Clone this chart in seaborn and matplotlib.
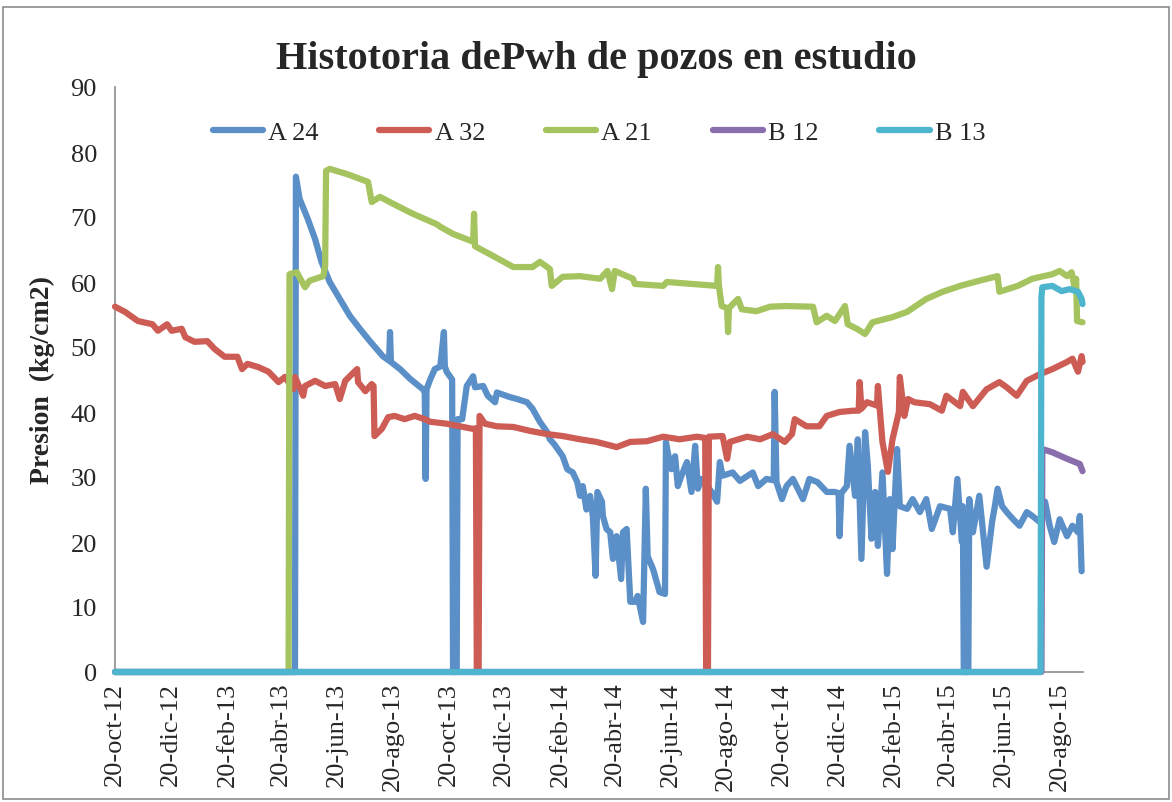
import matplotlib
matplotlib.use("Agg")
import matplotlib.pyplot as plt
import seaborn as sns
import pandas as pd
from matplotlib.patches import Rectangle
from matplotlib.lines import Line2D

# ---------------- data (days since 20-oct-12, Pwh kg/cm2) ----------------
inicio = "2012-10-20"

a24_dia = [0, 197, 198, 202, 211, 219, 226, 235, 246, 257, 268, 279, 293, 300, 301, 302, 312, 323, 337, 339, 340,
           341, 345, 350, 356, 360, 361, 363, 369, 370, 374, 375, 380, 385, 392, 394, 403, 408, 416, 418, 432, 440,
           451, 457, 465, 473, 476, 481, 490, 495, 501, 506, 509, 512, 516, 520, 523, 526, 528, 533, 534, 538, 542,
           545, 549, 554, 556, 560, 564, 569, 572, 578, 581, 583, 589, 596, 602, 603, 605, 609, 613, 616, 620, 626,
           631, 635, 638, 642, 653, 659, 662, 665, 676, 684, 698, 704, 713, 721, 722, 724, 730, 735, 742, 753, 760,
           769, 779, 788, 792, 793, 795, 801, 804, 810, 813, 817, 821, 824, 828, 832, 835, 840, 845, 848, 851, 856,
           859, 867, 873, 881, 888, 894, 903, 914, 917, 922, 927, 928, 929, 934, 935, 939, 946, 954, 960, 963, 966,
           971, 976, 983, 990, 998, 1004, 1012, 1018, 1023, 1028, 1034, 1042, 1048, 1054, 1056, 1058]
a24_pwh = [0, 0, 76.2, 72.8, 69.7, 66.6, 63.1, 60.0, 57.4, 54.8, 52.8, 50.9, 48.6, 47.9, 52.3, 47.7, 46.6, 45.1, 43.5, 43.0, 29.7,
           43.5, 45.0, 46.6, 47.0, 52.3, 47.0, 46.2, 45.0, 0, 0, 38.9, 38.9, 44.0, 45.5, 43.8, 44.0, 42.5, 41.5, 43.0, 42.3, 42.0,
           41.5, 40.5, 38.5, 36.9, 35.8, 35.0, 33.2, 31.2, 30.7, 29.2, 27.1, 28.6, 25.0, 27.1, 24.0, 14.8, 27.7, 26.2, 24.0, 22.0, 21.5,
           17.4, 20.9, 14.3, 21.5, 22.0, 10.8, 10.8, 11.7, 7.7, 28.2, 17.8, 15.8, 12.3, 12.0, 35.4, 33.8, 31.2, 33.2, 28.6, 30.2, 32.3,
           27.7, 34.8, 28.2, 29.7, 27.7, 26.2, 32.3, 30.2, 30.7, 29.4, 30.7, 28.6, 29.7, 29.5, 43.1, 29.2, 26.6, 28.6, 29.7, 26.6, 29.7,
           29.2, 27.7, 27.7, 27.5, 20.9, 27.5, 28.6, 34.8, 27.1, 35.8, 17.4, 36.9, 31.7, 20.5, 27.7, 19.4, 30.7, 15.1, 26.6, 18.9, 34.3,
           25.5, 25.1, 26.6, 24.6, 26.6, 22.0, 25.5, 25.1, 21.5, 29.7, 20.0, 25.5, 0, 0, 26.6, 21.5, 27.1, 16.2, 23.1, 25.5, 28.2,
           25.5, 24.6, 23.5, 22.5, 24.6, 24.0, 23.1, 26.2, 22.5, 20.0, 23.5, 20.9, 22.5, 21.5, 24.0, 15.5]

a32_dia = [0, 11, 25, 41, 47, 57, 62, 73, 77, 87, 101, 109, 120, 134, 139, 145, 157, 168, 179, 186, 195, 197, 206, 208,
           219, 230, 241, 246, 252, 265, 266, 274, 281, 283, 284, 292, 299, 306, 317, 328, 339, 345, 363, 381, 392, 395,
           396, 398, 399, 405, 418, 436, 454, 473, 490, 509, 527, 549, 564, 582, 600, 618, 637, 646, 647, 649, 650, 665,
           670, 673, 692, 706, 720, 733, 741, 744, 757, 771, 779, 793, 808, 814, 815, 817, 823, 834, 835, 837, 840, 846,
           851, 858, 859, 864, 868, 875, 892, 905, 910, 925, 928, 939, 954, 968, 976, 987, 998, 1012, 1026, 1042, 1048,
           1054, 1058, 1059]
a32_pwh = [56.2, 55.4, 54.0, 53.5, 52.5, 53.5, 52.5, 52.8, 51.5, 50.8, 50.9, 49.7, 48.5, 48.5, 46.6, 47.4, 46.9, 46.2, 44.6, 45.4, 43.5, 45.4, 42.5, 44.0,
           44.8, 44.0, 44.3, 42.0, 44.8, 46.6, 44.6, 43.2, 44.3, 44.0, 36.3, 37.4, 39.2, 39.4, 38.9, 39.4, 38.9, 38.5, 38.2, 37.7, 37.4, 37.5,
           0, 0, 39.4, 38.2, 37.8, 37.7, 37.1, 36.6, 36.3, 35.8, 35.4, 34.6, 35.4, 35.5, 36.2, 35.8, 36.2, 36.0, 0, 0, 36.2, 36.3,
           32.8, 35.4, 36.2, 35.8, 36.6, 35.4, 36.6, 38.9, 37.8, 37.8, 39.4, 40.0, 40.2, 40.2, 44.6, 40.5, 41.5, 41.0, 44.0, 40.5, 35.4, 30.8,
           35.8, 40.0, 45.4, 39.4, 42.0, 41.5, 41.2, 40.2, 42.5, 40.9, 43.1, 40.9, 43.5, 44.6, 43.8, 42.5, 44.8, 45.8, 46.6, 47.7, 48.2,
           46.2, 48.6, 47.7]

a21_dia = [0, 190, 191, 199, 208, 213, 228, 230, 231, 235, 254, 277, 281, 290, 309, 326, 352, 356, 370, 392, 393, 394,
           414, 436, 457, 465, 476, 478, 490, 509, 531, 539, 544, 547, 567, 569, 600, 604, 659, 660, 661, 664, 670, 671,
           672, 682, 686, 702, 717, 733, 764, 768, 779, 788, 799, 802, 812, 821, 829, 851, 867, 888, 906, 925, 946, 966,
           968, 988, 1004, 1026, 1034, 1042, 1047, 1050, 1052, 1053, 1059]
a21_pwh = [0, 0, 61.2, 61.5, 59.2, 60.2, 60.9, 62.5, 77.1, 77.4, 76.6, 75.4, 72.3, 73.1, 71.7, 70.5, 68.9, 68.5, 67.4, 66.2, 70.5, 65.5,
           64.0, 62.3, 62.3, 63.1, 62.0, 59.4, 60.8, 60.9, 60.5, 61.7, 58.9, 61.7, 60.5, 59.7, 59.4, 60.0, 59.4, 62.3, 59.4, 56.3, 56.0, 52.3,
           56.0, 57.4, 55.8, 55.5, 56.2, 56.3, 56.2, 53.8, 54.8, 54.0, 56.3, 53.5, 52.8, 52.0, 53.8, 54.6, 55.4, 57.4, 58.5, 59.4, 60.2, 60.9,
           58.5, 59.4, 60.5, 61.2, 61.7, 60.9, 61.5, 59.4, 60.5, 54.0, 53.8]

b12_dia = [0, 1014, 1015, 1026, 1042, 1056, 1059]
b12_pwh = [0, 0, 34.3, 33.8, 32.8, 32.0, 30.9]

b13_dia = [0, 1013, 1014, 1015, 1026, 1036, 1045, 1054, 1058, 1059]
b13_pwh = [0, 0, 57.7, 59.2, 59.4, 58.6, 58.9, 58.5, 57.4, 56.6]

pozos = ["A 24", "A 32", "A 21", "B 12", "B 13"]
colores = ["#5A8FC8", "#CD5C55", "#A5C35E", "#8A6DAD", "#4EB5CF"]

tick_fechas = ["2012-10-20", "2012-12-20", "2013-02-20", "2013-04-20", "2013-06-20", "2013-08-20",
               "2013-10-20", "2013-12-20", "2014-02-20", "2014-04-20", "2014-06-20", "2014-08-20",
               "2014-10-20", "2014-12-20", "2015-02-20", "2015-04-20", "2015-06-20", "2015-08-20"]
tick_textos = ["20-oct-12", "20-dic-12", "20-feb-13", "20-abr-13", "20-jun-13", "20-ago-13",
               "20-oct-13", "20-dic-13", "20-feb-14", "20-abr-14", "20-jun-14", "20-ago-14",
               "20-oct-14", "20-dic-14", "20-feb-15", "20-abr-15", "20-jun-15", "20-ago-15"]
y_ticks = [0, 10, 20, 30, 40, 50, 60, 70, 80, 90]

titulo = "Histotoria dePwh de pozos en estudio"
y_label = "Presion  (kg/cm2)"

# ---------------- build frame ----------------
t0 = pd.Timestamp(inicio)
series = [(a24_dia, a24_pwh), (a32_dia, a32_pwh), (a21_dia, a21_pwh), (b12_dia, b12_pwh), (b13_dia, b13_pwh)]
frames = []
for nombre, (d, v) in zip(pozos, series):
    frames.append(pd.DataFrame({"fecha": t0 + pd.to_timedelta(d, unit="D"), "pwh": v, "pozo": nombre}))
df = pd.concat(frames, ignore_index=True)

# ---------------- plot ----------------
sns.set_style("white")
plt.rcParams["font.family"] = ["Liberation Serif", "DejaVu Serif"]

fig = plt.figure(figsize=(11.72, 8.03), dpi=100)
ax = fig.add_axes([115 / 1172, 1 - 673 / 803, (1083 - 115) / 1172, (673 - 88) / 803])

lw = 4.5
sns.lineplot(data=df, x="fecha", y="pwh", hue="pozo", hue_order=pozos,
             palette=dict(zip(pozos, colores)), estimator=None, sort=False,
             linewidth=lw, ax=ax, legend=False)

for ln in ax.lines:
    ln.set_solid_joinstyle("round")
    ln.set_solid_capstyle("round")
    ln.set_clip_on(False)
    ln.set_zorder(3)

ax.set_xlim(t0, t0 + pd.Timedelta(days=1059.5))
ax.set_ylim(0, 90)
ax.set_yticks(y_ticks)
ax.set_yticklabels([str(v) for v in y_ticks], fontsize=19)
ax.set_xticks(pd.to_datetime(tick_fechas))
ax.set_xticklabels(tick_textos, rotation=90, fontsize=19)

for s in ["top", "right"]:
    ax.spines[s].set_visible(False)
for s in ["left", "bottom"]:
    ax.spines[s].set_color("#8C8C8C")
    ax.spines[s].set_linewidth(1.2)
    ax.spines[s].set_zorder(1)

ax.tick_params(axis="y", length=0, pad=13)
ax.tick_params(axis="x", length=4, width=1.2, color="#8C8C8C", pad=3, direction="out")
ax.grid(False)

ax.set_xlabel("")
ax.set_ylabel(y_label, fontsize=20, fontweight="bold")
ax.yaxis.set_label_coords(-0.062, 0.5)

legend_handles = [Line2D([0], [0], color=c, lw=lw, solid_capstyle="round") for c in colores]
ax.legend(legend_handles, pozos, loc="center", bbox_to_anchor=(0.5, 0.923), ncol=5, frameon=False,
          fontsize=19, handlelength=1.9, columnspacing=2.3, handletextpad=0.2)

fig.text(0.509, 1 - 60 / 803, titulo, ha="center", va="center", fontsize=29, fontweight="bold")

fig.patches.append(Rectangle((3 / 1172, 3 / 803), 1 - 6 / 1172, 1 - 11 / 803, transform=fig.transFigure,
                             fill=False, edgecolor="#8C8C8C", linewidth=1.2))

fig.savefig("out.png", dpi=100)
